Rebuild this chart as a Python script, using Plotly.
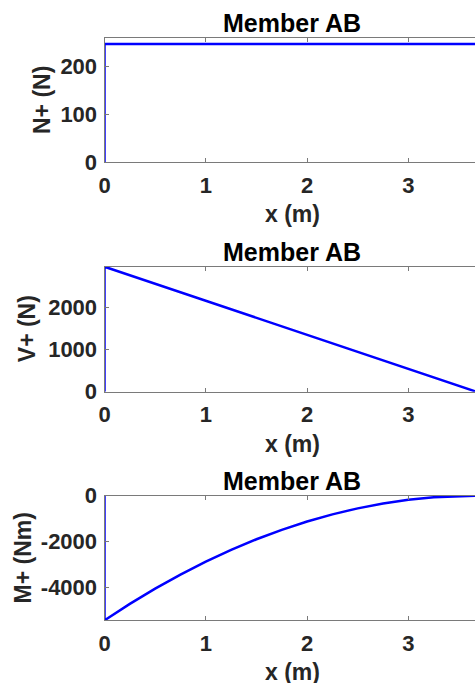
import plotly.graph_objects as go

# ---- data ----
n_x = [0, 0, 3.67, 3.67]
n_val = [0, 247, 247, 0]

v_x = [0, 0, 3.67]
v_val = [0, 2955, 0]

m_x = [0, 0, 0.25, 0.5, 0.75, 1.0, 1.25, 1.5, 1.75, 2.0, 2.25, 2.5, 2.75, 3.0, 3.25, 3.5, 3.67]
m_val = [0, -5421, -4708, -4045, -3432, -2869, -2357, -1895, -1484, -1123, -812, -551, -341, -181, -71, -12, 0]

x_ticks = [0, 1, 2, 3]
n_ticks = [0, 100, 200]
v_ticks = [0, 1000, 2000]
m_ticks = [-4000, -2000, 0]

titles = ["Member AB", "Member AB", "Member AB"]
y_labels = ["N+ (N)", "V+ (N)", "M+ (Nm)"]
x_label = "x (m)"

W, H = 475, 683
FONT = "Liberation Sans, Arial, Helvetica, sans-serif"
TXT = "#262626"
AX = "#7a7a7a"

# panel geometry in pixels (top, bottom)
panels = [(37.7, 162.3), (266.7, 391.7), (495.7, 620.3)]
left_px = 104.5
px_per_unit = 101.3
x_max = (W - left_px) / px_per_unit

fig = go.Figure()
series = [(n_x, n_val), (v_x, v_val), (m_x, m_val)]
for i, (xs, ys) in enumerate(series):
    sfx = "" if i == 0 else str(i + 1)
    fig.add_trace(go.Scatter(x=xs, y=ys, mode="lines",
                             line=dict(color="#0000ff", width=2.5),
                             xaxis="x" + sfx, yaxis="y" + sfx,
                             showlegend=False, hoverinfo="skip"))

y_ranges = [[0, 260], [0, 2955], [-5421, 0]]
y_tickvals = [n_ticks, v_ticks, m_ticks]
ylab_x = [42, 27, 22.5]

layout = dict(width=W, height=H,
              margin=dict(l=0, r=0, t=0, b=0, pad=0, autoexpand=False),
              paper_bgcolor="white", plot_bgcolor="white", showlegend=False)
annotations = []
for i, (top, bot) in enumerate(panels):
    sfx = "" if i == 0 else str(i + 1)
    dom_y = [1 - bot / H, 1 - top / H]
    layout["xaxis" + sfx] = dict(
        domain=[left_px / W, 1], range=[0, x_max], anchor="y" + sfx,
        tickvals=x_ticks, ticktext=[str(t) for t in x_ticks],
        ticks="inside", ticklen=4, tickcolor=AX, tickwidth=1,
        showline=True, linecolor=AX, linewidth=1, mirror="ticks",
        showgrid=False, zeroline=False, ticklabelstandoff=3,
        tickfont=dict(family=FONT, size=22, color=TXT, weight="bold"))
    layout["yaxis" + sfx] = dict(
        domain=dom_y, range=y_ranges[i], anchor="x" + sfx,
        tickvals=y_tickvals[i], ticktext=[str(t) for t in y_tickvals[i]],
        ticks="inside", ticklen=4, tickcolor=AX, tickwidth=1,
        showline=True, linecolor=AX, linewidth=1, mirror=False,
        showgrid=False, zeroline=False, ticklabelstandoff=2,
        tickfont=dict(family=FONT, size=22, color=TXT, weight="bold"))
    cx = 292 / W
    annotations.append(dict(text="<b>%s</b>" % titles[i], x=cx, y=1 - (top - 14.5) / H,
                            xref="paper", yref="paper", showarrow=False,
                            xanchor="center", yanchor="middle",
                            font=dict(family=FONT, size=25, color="black")))
    annotations.append(dict(text="<b>%s</b>" % x_label, x=cx, y=1 - (bot + 52) / H,
                            xref="paper", yref="paper", showarrow=False,
                            xanchor="center", yanchor="middle",
                            font=dict(family=FONT, size=23, color=TXT)))
    annotations.append(dict(text="<b>%s</b>" % y_labels[i], x=ylab_x[i] / W,
                            y=1 - (top + bot) / 2 / H,
                            xref="paper", yref="paper", showarrow=False,
                            xanchor="center", yanchor="middle", textangle=-90,
                            font=dict(family=FONT, size=23, color=TXT)))
layout["annotations"] = annotations
fig.update_layout(**layout)
fig.write_html("out.html", config={"displayModeBar": False},
               post_script="document.body.style.margin='0';document.body.style.overflow='hidden';")
